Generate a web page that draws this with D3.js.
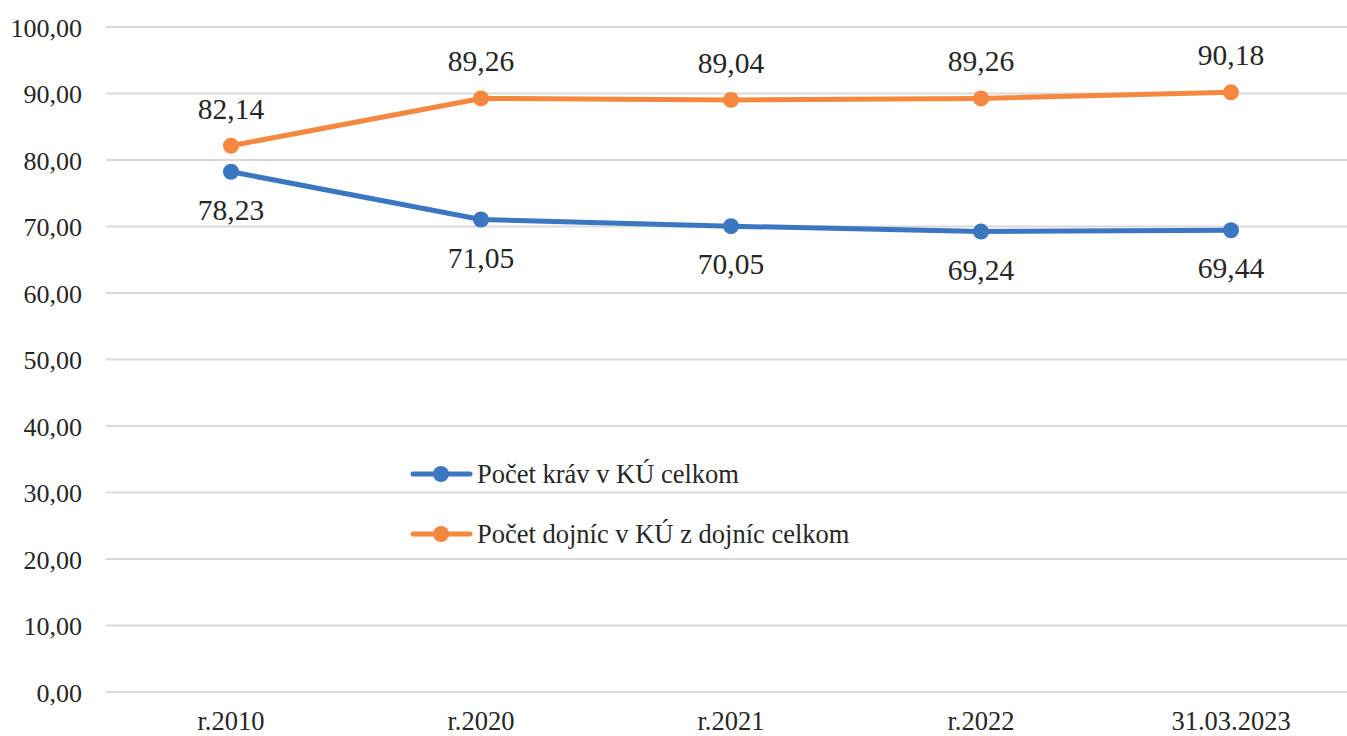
<!DOCTYPE html>
<html><head><meta charset="utf-8">
<script src="https://cdn.jsdelivr.net/npm/d3@7"></script>
<style>body{margin:0;background:#fff}svg{display:block}</style>
</head><body>
<svg id="c" width="1347" height="736"></svg>
<script>
const categories = ["r.2010","r.2020","r.2021","r.2022","31.03.2023"];
const kravy = [78.23,71.05,70.05,69.24,69.44];
const dojnice = [82.14,89.26,89.04,89.26,90.18];
const seriesNames = ["Počet kráv v KÚ celkom","Počet dojníc v KÚ z dojníc celkom"];
const yTicks = [0,10,20,30,40,50,60,70,80,90,100];
const colors = ["#3B76C1","#F5873F"];
const FONT = "'Liberation Serif'";
const TXT = "#262626";

const svg = d3.select("#c");
const x = d3.scaleBand().domain(categories).range([106,1356]);
const y = d3.scaleLinear().domain([0,100]).range([692,27]);
const fmt = v => d3.format(".2f")(v).replace(".",",");

const grid = svg.append("g");
grid.selectAll("line").data(yTicks).join("line")
  .attr("x1",106).attr("x2",1347).attr("y1",d=>y(d)).attr("y2",d=>y(d))
  .attr("stroke","#d9d9d9").attr("stroke-width",2);

const yAxis = svg.append("g").attr("transform","translate(82,0)")
  .call(d3.axisLeft(y).tickValues(yTicks).tickFormat(fmt).tickSize(0).tickPadding(0));
yAxis.select(".domain").remove();
yAxis.selectAll("text").attr("font-size",26).attr("fill",TXT).attr("dy","0.35em").style("font-family",FONT);

const xAxis = svg.append("g").attr("transform","translate(0,692)")
  .call(d3.axisBottom(x).tickSize(0).tickPadding(0));
xAxis.select(".domain").remove();
xAxis.selectAll("text").attr("font-size",26.5).attr("fill",TXT).attr("dy","1.42em").style("font-family",FONT);

const data = [kravy, dojnice];
const line = d3.line().x((d,i)=>x(categories[i])+x.bandwidth()/2).y(d=>y(d));
data.forEach((s,k)=>{
  const g = svg.append("g");
  g.append("path").datum(s).attr("d",line).attr("fill","none")
    .attr("stroke",colors[k]).attr("stroke-width",5).attr("stroke-linecap","round").attr("stroke-linejoin","round");
  g.selectAll("circle").data(s).join("circle")
    .attr("cx",(d,i)=>x(categories[i])+x.bandwidth()/2).attr("cy",d=>y(d)).attr("r",8).attr("fill",colors[k]);
  g.selectAll("text").data(s).join("text")
    .attr("x",(d,i)=>x(categories[i])+x.bandwidth()/2)
    .attr("y",d=>k===0 ? y(d)+48 : y(d)-27)
    .attr("text-anchor","middle").attr("font-size",29.5).attr("fill",TXT).style("font-family",FONT).text(d=>fmt(d));
});

const leg = svg.append("g");
seriesNames.forEach((n,k)=>{
  const ly = 474 + k*60;
  leg.append("line").attr("x1",413).attr("x2",470).attr("y1",ly).attr("y2",ly)
    .attr("stroke",colors[k]).attr("stroke-width",5).attr("stroke-linecap","round");
  leg.append("circle").attr("cx",441).attr("cy",ly).attr("r",8).attr("fill",colors[k]);
  leg.append("text").attr("x",477).attr("y",ly).attr("dy","0.35em").attr("font-size",26.5)
    .attr("fill",TXT).style("font-family",FONT).text(n);
});
</script>
</body></html>
